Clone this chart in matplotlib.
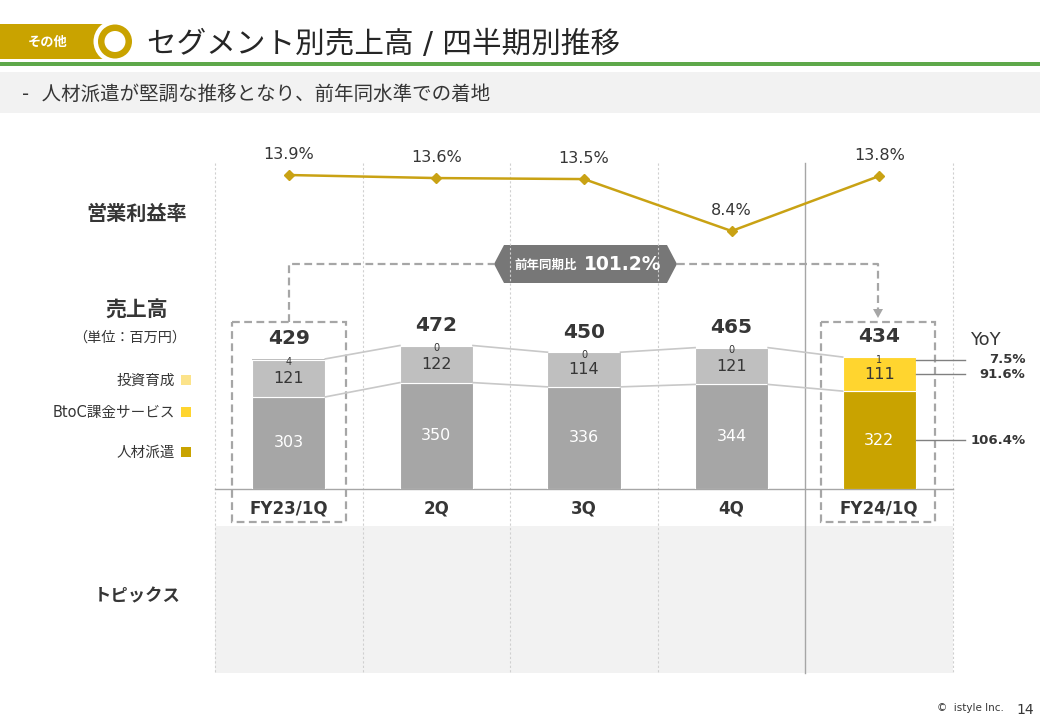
import matplotlib
matplotlib.use("Agg")
import matplotlib.pyplot as plt
from matplotlib.patches import Rectangle, Circle, Polygon
from matplotlib.transforms import blended_transform_factory
import numpy as np

plt.rcParams['font.family'] = ['DejaVu Sans', 'Noto Sans CJK JP']

# ---------------- data ----------------
categories = ["FY23/1Q", "2Q", "3Q", "4Q", "FY24/1Q"]
jinzai = [303, 350, 336, 344, 322]          # 人材派遣
btoc = [121, 122, 114, 121, 111]            # BtoC課金サービス
toushi = [4, 0, 0, 0, 1]                    # 投資育成
totals = [429, 472, 450, 465, 434]
op_margin = [13.9, 13.6, 13.5, 8.4, 13.8]   # 営業利益率 (%)
yoy_labels = ["7.5%", "91.6%", "106.4%"]    # 投資育成, BtoC, 人材派遣
yoy_total = "101.2%"

GOLD = "#C9A300"
LINE_GOLD = "#C9A214"
DARK = "#363636"
GRAYLINE = "#A6A6A6"

W, H = 1040, 720
fig = plt.figure(figsize=(W / 100, H / 100), dpi=100)

# canvas in pixel coordinates for decorations
cv = fig.add_axes([0, 0, 1, 1], zorder=0)
cv.set_xlim(0, W)
cv.set_ylim(H, 0)
cv.axis('off')

# header
cv.add_patch(Rectangle((0, 24), 108, 35, color=GOLD, lw=0))
cv.add_patch(Circle((115, 41.5), 21.5, color='white', lw=0))
cv.add_patch(Circle((115, 41.5), 17, color=GOLD, lw=0))
cv.add_patch(Circle((115, 41.5), 10.5, color='white', lw=0))
cv.text(48, 42, "その他", color='white', fontsize=9.5, fontweight='bold', ha='center', va='center')
cv.text(147, 44, "セグメント別売上高 / 四半期別推移", color="#262626", fontsize=21.3, ha='left', va='center')
cv.add_patch(Rectangle((0, 62), W, 4, color="#5EA84A", lw=0))
cv.add_patch(Rectangle((0, 72), W, 41, color="#F2F2F2", lw=0))
cv.text(22, 94, "-  人材派遣が堅調な推移となり、前年同水準での着地", color=DARK, fontsize=14, ha='left', va='center')

# topics area
cv.add_patch(Rectangle((215, 526), 953 - 215, 673 - 526, color="#F2F2F2", lw=0))

# vertical grid lines
x0_px, step_px = 215, (953 - 215) / 5
for k in range(6):
    xx = x0_px + k * step_px
    if k == 4:
        cv.plot([xx, xx], [163, 673], color=GRAYLINE, lw=1.0)
    else:
        cv.plot([xx, xx], [163, 673], color="#D0D0D0", lw=0.8, ls=(0, (2, 2)))
cv.plot([215, 953], [489, 489], color=GRAYLINE, lw=1.0)

# left labels
cv.text(137, 214, "営業利益率", fontsize=14.5, fontweight='bold', color=DARK, ha='center', va='center')
cv.text(137, 311, "売上高", fontsize=15, fontweight='bold', color=DARK, ha='center', va='center')
cv.text(130, 338, "（単位：百万円）", fontsize=10.2, color=DARK, ha='center', va='center')
legend_items = [("投資育成", "#FCE38A", 380), ("BtoC課金サービス", "#FFD52F", 412), ("人材派遣", GOLD, 452)]
for lab, col, yy in legend_items:
    cv.text(175, yy, lab, fontsize=10.5, color=DARK, ha='right', va='center')
    cv.add_patch(Rectangle((181, yy - 5), 10, 10, color=col, lw=0))
cv.text(137, 596, "トピックス", fontsize=12.5, fontweight='bold', color=DARK, ha='center', va='center')

# dashed boxes & connector
dash = (0, (3.5, 2))
for bx in (232, 821):
    cv.add_patch(Rectangle((bx, 322), 114, 200, fill=False, ec=GRAYLINE, lw=1.6, ls=dash))
cv.plot([289, 289, 494], [322, 264, 264], color=GRAYLINE, lw=1.6, ls=dash)
cv.plot([677, 878, 878], [264, 264, 310], color=GRAYLINE, lw=1.6, ls=dash)
cv.add_patch(Polygon([(873, 309), (883, 309), (878, 318)], color=GRAYLINE, lw=0))
cv.add_patch(Polygon([(494, 264), (504, 245), (667, 245), (677, 264), (667, 283), (504, 283)],
                     color="#777777", lw=0))
cv.text(546, 265, "前年同期比", fontsize=9, fontweight='bold', color='white', ha='center', va='center')
cv.text(623, 264, yoy_total, fontsize=13.5, fontweight='bold', color='white', ha='center', va='center')

# footer
cv.text(970, 708, "©  istyle Inc.", fontsize=7.5, color=DARK, ha='center', va='center')
cv.text(1025, 710, "14", fontsize=10, color=DARK, ha='center', va='center')

# ---------------- bar axes ----------------
scale = 0.304  # px per unit
ax = fig.add_axes([215 / W, 1 - 489 / H, (953 - 215) / W, (489 - 163) / H], zorder=2)
ax.patch.set_alpha(0)
ax.set_xlim(-0.5, 4.5)
ax.set_ylim(0, (489 - 163) / scale)
ax.axis('off')

x = np.arange(len(categories))
bw = 0.495
j = np.array(jinzai)
b = np.array(btoc)
t = np.array(toushi)
c_j = ["#A6A6A6"] * 4 + [GOLD]
c_b = ["#BFBFBF"] * 4 + ["#FFD52F"]
c_t = ["#BFBFBF"] * 4 + ["#FFE38A"]
ax.bar(x, j, bw, color=c_j, edgecolor='white', linewidth=0.8)
ax.bar(x, b, bw, bottom=j, color=c_b, edgecolor='white', linewidth=0.8)
ax.bar(x, t, bw, bottom=j + b, color=c_t, linewidth=0)

top = j + b + t
for i in range(len(x) - 1):
    ax.plot([x[i] + bw / 2, x[i + 1] - bw / 2], [top[i], top[i + 1]], color="#C8C8C8", lw=1.2)
    ax.plot([x[i] + bw / 2, x[i + 1] - bw / 2], [j[i], j[i + 1]], color="#C8C8C8", lw=1.2)

for i in range(len(x)):
    ax.text(x[i], j[i] / 2, str(jinzai[i]), color='white', fontsize=11.5, ha='center', va='center')
    ax.text(x[i], j[i] + b[i] / 2, str(btoc[i]), color=DARK, fontsize=11.5, ha='center', va='center')
    ax.annotate(str(toushi[i]), (x[i], top[i]), xytext=(0, -2), textcoords='offset points',
                color=DARK, fontsize=7, ha='center', va='center')
    ax.annotate(str(totals[i]), (x[i], top[i]), xytext=(0, 14.5), textcoords='offset points',
                color=DARK, fontsize=14.5, fontweight='bold', ha='center', va='center')

# category labels
tr = blended_transform_factory(ax.transData, cv.transData)
for i, cat in enumerate(categories):
    ax.text(x[i], 508, cat, transform=tr, fontsize=12, fontweight='bold', color=DARK, ha='center', va='center')

# YoY annotations for last bar
last = len(x) - 1
yoy_y = [j[last] + b[last] + t[last] / 2 - 8, j[last] + b[last] / 2, j[last] / 2]
ax.text(4.72, 340, "YoY", transform=tr, fontsize=13, color=DARK, ha='center', va='center')
for lab, yy in zip(yoy_labels, yoy_y):
    ax.plot([x[last] + bw / 2, 4.58], [yy, yy], color="#808080", lw=1.0, clip_on=False)
    ax.text(4.99, yy, lab, fontsize=9.5, fontweight='bold', color=DARK, ha='right', va='center', clip_on=False)

# ---------------- margin line ----------------
ax2 = ax.twinx()
ax2.set_zorder(3)
ax2.patch.set_alpha(0)
ax2.set_ylim(-16.94, 15.08)
ax2.axis('off')
ax2.plot(x, op_margin, color=LINE_GOLD, lw=1.8, marker='D', markersize=5.5,
         markerfacecolor=LINE_GOLD, markeredgecolor=LINE_GOLD)
for i, v in enumerate(op_margin):
    ax2.annotate(f"{v:.1f}%", (x[i], v), xytext=(0, 14.5), textcoords='offset points',
                 fontsize=11.5, color=DARK, ha='center', va='center')

fig.savefig("out.png", dpi=100)
